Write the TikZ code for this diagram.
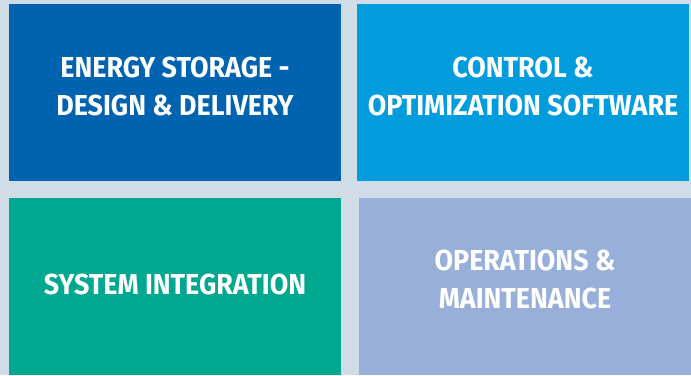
\documentclass[tikz,border=0pt]{standalone}
\usepackage{fontspec}
\setmainfont{Fira Sans}[FakeStretch=0.93]
\usepackage{xcolor}
\definecolor{bgGray}{HTML}{D1DDE6}
\definecolor{tileBlue}{HTML}{0063B0}
\definecolor{tileSky}{HTML}{009CDE}
\definecolor{tileGreen}{HTML}{00A88F}
\definecolor{tileLav}{HTML}{98AFDA}

\tikzset{
 tile/.style={draw=none, inner sep=0, outer sep=0, minimum width=332bp, minimum height=177bp},
 tiletext/.style={text=white, align=center, inner sep=0,
   font=\bfseries\fontsize{29}{38}\selectfont}
}

\begin{document}
\begin{tikzpicture}[x=1bp, y=-1bp]
\fill[bgGray] (0,0) rectangle (691,375);
\useasboundingbox (0,0) rectangle (691,375);
% the four tiles
\node[tile, fill=tileBlue]  (storage)     at (175,92.5)  {};
\node[tile, fill=tileSky]   (control)     at (523,92.5)  {};
\node[tile, fill=tileGreen] (integration) at (175,286.5) {};
\node[tile, fill=tileLav]   (operations)  at (525,286.5) {};
% labels
\node[tiletext] (storagetxt) at (175,86.5) {ENERGY STORAGE -\\DESIGN \& DELIVERY};
\node[tiletext] (controltxt) at (523,86.5) {CONTROL \&\\OPTIMIZATION SOFTWARE};
\node[tiletext] (integrationtxt) at (175,284) {SYSTEM INTEGRATION};
\node[tiletext] (operationstxt) at (525,279.5) {OPERATIONS \&\\MAINTENANCE};
\end{tikzpicture}
\end{document}
